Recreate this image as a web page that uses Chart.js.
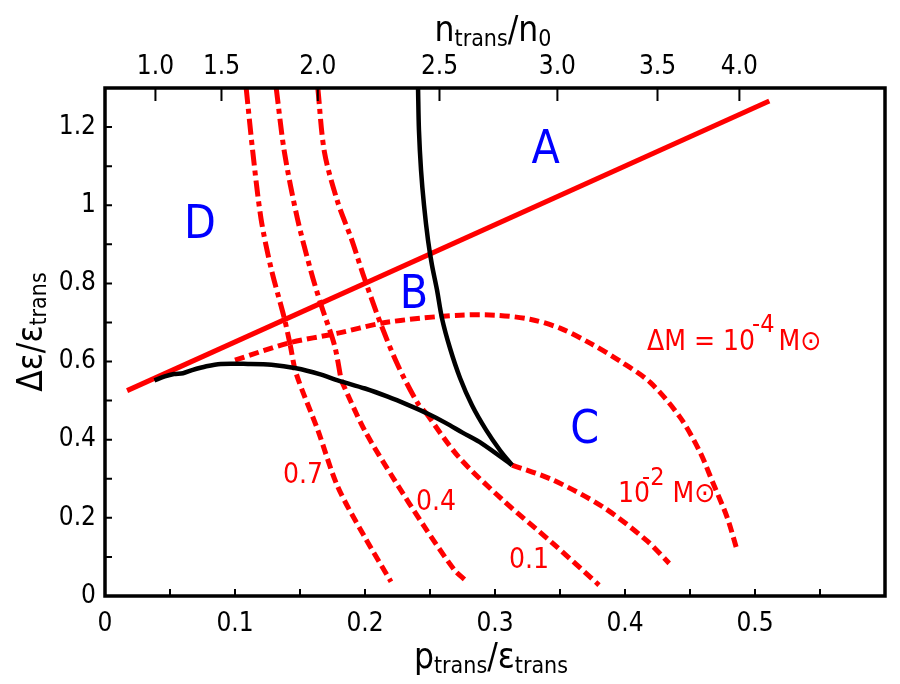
<!DOCTYPE html>
<html>
<head>
<meta charset="utf-8">
<script src="https://cdn.jsdelivr.net/npm/chart.js@4.4.1/dist/chart.umd.min.js"></script>
<style>
  html, body { margin: 0; padding: 0; background: #fff; }
  #wrap { width: 900px; height: 684px; }
</style>
</head>
<body>
<div id="wrap"><canvas id="phaseChart" width="900" height="684"></canvas></div>
<script>
const FONT = "'DejaVu Sans Condensed', 'DejaVu Sans', sans-serif";

// axes
const xTicks = [0, 0.1, 0.2, 0.3, 0.4, 0.5];
const xMinorTicks = [0.05, 0.15, 0.25, 0.35, 0.45, 0.55];
const yTicks = [0, 0.2, 0.4, 0.6, 0.8, 1, 1.2];
const yMinorTicks = [0.1, 0.3, 0.5, 0.7, 0.9, 1.1];
// top axis: n_trans/n0 values and where they fall on the p axis
const topTickLabels = ['1.0', '1.5', '2.0', '2.5', '3.0', '3.5', '4.0'];
const topTickPos = [0.0388, 0.0896, 0.1637, 0.2573, 0.348, 0.425, 0.488];

// curves, [p/eps, deltaEps/eps]
const seidovLine = [[0.017, 0.5255], [0.511, 1.2665]];
const stableLower = [[0.038, 0.552], [0.046, 0.562], [0.053, 0.568], [0.06, 0.570],
  [0.067, 0.578], [0.078, 0.588], [0.089, 0.594], [0.11, 0.594], [0.128, 0.592],
  [0.147, 0.583], [0.165, 0.568], [0.179, 0.552], [0.2, 0.531], [0.2175, 0.51],
  [0.233, 0.489], [0.248, 0.467], [0.262, 0.443], [0.275, 0.418], [0.29, 0.39], [0.3131, 0.335]];
const stableUpper = [[0.2408, 1.3], [0.2415, 1.192], [0.2431, 1.09], [0.2454, 1.0],
  [0.2485, 0.91], [0.2515, 0.847], [0.2554, 0.783], [0.2592, 0.711], [0.2654, 0.634],
  [0.2731, 0.558], [0.2823, 0.488], [0.2931, 0.425], [0.3038, 0.373], [0.3131, 0.335]];
const massDiff4 = [[0.1, 0.6036], [0.1408, 0.647], [0.1792, 0.6726], [0.2123, 0.698],
  [0.2423, 0.7107], [0.2731, 0.7187], [0.30, 0.7187], [0.3269, 0.7084], [0.35, 0.6854],
  [0.3731, 0.6471], [0.3962, 0.601], [0.4192, 0.5473], [0.4423, 0.4578], [0.4577, 0.3683],
  [0.4677, 0.289], [0.4785, 0.202], [0.4862, 0.1176]];
const massDiff2 = [[0.3131, 0.335], [0.3445, 0.297], [0.383, 0.228], [0.4163, 0.143], [0.434, 0.0835]];
const curve07Upper = [[0.1086, 1.3], [0.1137, 1.136], [0.12, 0.966], [0.1278, 0.838],
  [0.138, 0.71], [0.1425, 0.642]];
const curve07Lower = [[0.1425, 0.642], [0.147, 0.57], [0.1637, 0.4246], [0.179, 0.28],
  [0.1996, 0.152], [0.220, 0.0366]];
const curve04Upper = [[0.1317, 1.3], [0.138, 1.136], [0.148, 0.966], [0.1586, 0.829],
  [0.1663, 0.744], [0.1765, 0.642], [0.1817, 0.552]];
const curve04Lower = [[0.1817, 0.552], [0.1996, 0.4246], [0.2227, 0.2967], [0.2458, 0.177],
  [0.2688, 0.0665], [0.277, 0.041]];
const curve01Upper = [[0.1637, 1.3], [0.1688, 1.136], [0.179, 1.008], [0.1894, 0.915],
  [0.1996, 0.8125], [0.2125, 0.693], [0.2252, 0.591], [0.2406, 0.493], [0.247, 0.468]];
const curve01Lower = [[0.247, 0.468], [0.272, 0.356], [0.306, 0.2455], [0.3445, 0.1348], [0.38, 0.028]];

// region letters and curve labels: [text, p, deltaEps]
const regionLabels = [['A', 0.339, 1.107], ['B', 0.2377, 0.737], ['C', 0.369, 0.391], ['D', 0.073, 0.916]];
const curveLabels = [['0.7', 0.1523, 0.289], ['0.4', 0.2546, 0.22], ['0.1', 0.3262, 0.0716]];

const toXY = arr => arr.map(p => ({ x: p[0], y: p[1] }));

const DASH = [10, 5];
const DASHDOT = [16, 5, 5, 5];

function lineSet(arr, color, width, dash, order, tension) {
  return {
    data: toXY(arr),
    showLine: true,
    borderColor: color,
    borderWidth: width,
    borderDash: dash,
    pointRadius: 0,
    tension: tension,
    order: order
  };
}

// draws text pieces side by side: [text, size, dy, dx]
function drawRich(ctx, parts, x, y, align) {
  let total = 0;
  parts.forEach(p => {
    ctx.font = p[1] + 'px ' + FONT;
    total += ctx.measureText(p[0]).width + (p[3] || 0);
  });
  let cx = align === 'center' ? x - total / 2 : x;
  ctx.textAlign = 'left';
  ctx.textBaseline = 'alphabetic';
  parts.forEach(p => {
    ctx.font = p[1] + 'px ' + FONT;
    cx += (p[3] || 0);
    ctx.fillText(p[0], cx, y + (p[2] || 0));
    cx += ctx.measureText(p[0]).width;
  });
}

const decorPlugin = {
  id: 'decor',
  afterDatasetsDraw(chart) {
    const { ctx, chartArea: a, scales } = chart;
    const sx = scales.x, sy = scales.y;
    ctx.save();

    // frame and inward ticks
    ctx.strokeStyle = '#000';
    ctx.lineWidth = 2;
    ctx.beginPath();
    xTicks.concat(xMinorTicks).forEach(v => {
      const px = sx.getPixelForValue(v);
      ctx.moveTo(px, a.bottom); ctx.lineTo(px, a.bottom - 7);
    });
    yTicks.concat(yMinorTicks).forEach(v => {
      const py = sy.getPixelForValue(v);
      ctx.moveTo(a.left, py); ctx.lineTo(a.left + 7, py);
    });
    topTickPos.forEach(v => {
      const px = sx.getPixelForValue(v);
      ctx.moveTo(px, a.top); ctx.lineTo(px, a.top + 13);
    });
    ctx.stroke();
    ctx.lineWidth = 3.5;
    ctx.strokeRect(a.left, a.top, a.width, a.height);

    // region letters
    ctx.fillStyle = '#0000ff';
    ctx.font = '46px ' + FONT;
    ctx.textAlign = 'center';
    ctx.textBaseline = 'alphabetic';
    regionLabels.forEach(l => ctx.fillText(l[0], sx.getPixelForValue(l[1]), sy.getPixelForValue(l[2])));

    // curve labels
    ctx.fillStyle = '#ff0000';
    ctx.font = '28px ' + FONT;
    curveLabels.forEach(l => ctx.fillText(l[0], sx.getPixelForValue(l[1]), sy.getPixelForValue(l[2])));

    drawRich(ctx, [['\u0394M = 10', 28], ['-4', 25, -18, -3], ['M\u2299', 28, 0, 4]],
      sx.getPixelForValue(0.4169), sy.getPixelForValue(0.629), 'left');
    drawRich(ctx, [['10', 28], ['-2', 25, -17, -8], ['M\u2299', 28, 0, 8]],
      sx.getPixelForValue(0.3946), sy.getPixelForValue(0.2404), 'left');

    // axis titles
    ctx.fillStyle = '#000';
    drawRich(ctx, [['n', 35], ['trans', 23, 5], ['/n', 35], ['0', 23, 5]], 493, 41, 'center');
    drawRich(ctx, [['p', 35], ['trans', 23, 5], ['/\u03b5', 35], ['trans', 23, 5]], 491, 668, 'center');
    ctx.translate(42, 332);
    ctx.rotate(-Math.PI / 2);
    drawRich(ctx, [['\u0394\u03b5/\u03b5', 35], ['trans', 23, 4]], 0, 0, 'center');
    ctx.restore();
  }
};

const tickFont = { family: FONT, size: 26 };

new Chart(document.getElementById('phaseChart').getContext('2d'), {
  type: 'scatter',
  data: {
    datasets: [
      lineSet(stableLower, '#000', 4.5, [], 0, 0.3),
      lineSet(stableUpper, '#000', 4.5, [], 0, 0.3),
      lineSet(seidovLine, '#ff0000', 5, [], 1, 0),
      lineSet(massDiff4, '#ff0000', 5, DASH, 2, 0.3),
      lineSet(massDiff2, '#ff0000', 5, DASH, 2, 0.3),
      lineSet(curve07Upper, '#ff0000', 5, DASHDOT, 2, 0.3),
      lineSet(curve07Lower, '#ff0000', 5, DASH, 2, 0.3),
      lineSet(curve04Upper, '#ff0000', 5, DASHDOT, 2, 0.3),
      lineSet(curve04Lower, '#ff0000', 5, DASH, 2, 0.3),
      lineSet(curve01Upper, '#ff0000', 5, DASHDOT, 2, 0.3),
      lineSet(curve01Lower, '#ff0000', 5, DASH, 2, 0.3)
    ]
  },
  options: {
    responsive: false,
    animation: false,
    devicePixelRatio: 1,
    layout: { padding: { right: 15 } },
    plugins: { legend: { display: false }, tooltip: { enabled: false } },
    scales: {
      x: {
        type: 'linear', position: 'bottom', min: 0, max: 0.6,
        grid: { display: false, drawTicks: false }, border: { display: false },
        afterBuildTicks: s => { s.ticks = xTicks.map(v => ({ value: v })); },
        afterFit: s => { s.height = 88; },
        ticks: { color: '#000', font: tickFont, padding: 13, maxRotation: 0,
          callback: v => (v === 0 ? '0' : v.toFixed(1)) }
      },
      x2: {
        type: 'linear', position: 'top', min: 0, max: 0.6,
        grid: { display: false, drawTicks: false }, border: { display: false },
        afterBuildTicks: s => { s.ticks = topTickPos.map(v => ({ value: v })); },
        afterFit: s => { s.height = 88; },
        ticks: { color: '#000', font: tickFont, padding: 5, maxRotation: 0,
          callback: (v, i) => topTickLabels[i] }
      },
      y: {
        type: 'linear', min: 0, max: 1.3,
        grid: { display: false, drawTicks: false }, border: { display: false },
        afterBuildTicks: s => { s.ticks = yTicks.map(v => ({ value: v })); },
        afterFit: s => { s.width = 105; },
        ticks: { color: '#000', font: tickFont, padding: 9, callback: v => String(v) }
      }
    }
  },
  plugins: [decorPlugin]
});
</script>
</body>
</html>
